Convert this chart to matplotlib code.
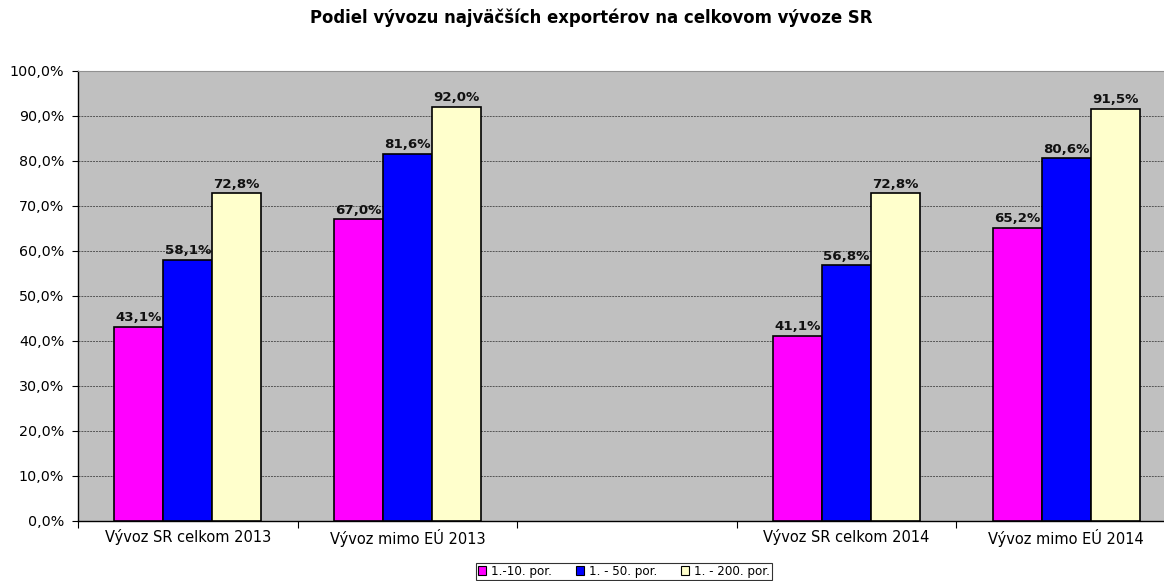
import numpy as np
import matplotlib
matplotlib.use("Agg")
import matplotlib.pyplot as plt
from matplotlib.patches import Patch

# data: share of the largest exporters in total Slovak exports (%)
categories = ["Vývoz SR celkom 2013", "Vývoz mimo EÚ 2013", "",
              "Vývoz SR celkom 2014", "Vývoz mimo EÚ 2014"]
series_names = ["1.-10. por.", "1. - 50. por.", "1. - 200. por."]
top10 = [43.1, 67.0, None, 41.1, 65.2]
top50 = [58.1, 81.6, None, 56.8, 80.6]
top200 = [72.8, 92.0, None, 72.8, 91.5]
y_ticks = [0, 10, 20, 30, 40, 50, 60, 70, 80, 90, 100]

colors = ["#FF00FF", "#0000FF", "#FFFFCC"]
TITLE = "Podiel vývozu najväčších exportérov na celkovom vývoze SR"


def pct(v):
    return f"{v:.1f}".replace(".", ",") + "%"


fig = plt.figure(figsize=(11.64, 5.81), dpi=100)
ax = fig.add_axes([0.067, 0.1033, 0.9433, 0.7745])
ax.set_facecolor("#C0C0C0")

x = np.arange(len(categories))
bar_w = 0.223
for i, (vals, col) in enumerate(zip([top10, top50, top200], colors)):
    offset = (i - 1) * bar_w
    for xi, v in zip(x, vals):
        if v is None:
            continue
        ax.bar(xi + offset, v, width=bar_w, color=col, edgecolor="black",
               linewidth=1.2, zorder=3)
        ax.annotate(pct(v), (xi + offset, v), xytext=(0, 2),
                    textcoords="offset points", ha="center", va="bottom",
                    fontsize=9.6, fontweight="bold", color="#111111", zorder=4)

ax.set_xlim(-0.5, len(categories) - 0.5)
ax.set_ylim(0, 100)
ax.set_yticks(y_ticks)
ax.set_yticklabels([pct(t) for t in y_ticks], fontsize=10.3)
ax.yaxis.grid(True, linestyle=(0, (2, 1)), color="#555555", linewidth=0.7,
              zorder=1)

# category separators as major ticks, names on minor ticks
ax.set_xticks(np.arange(len(categories) + 1) - 0.5)
ax.set_xticklabels([])
ax.set_xticks(x, minor=True)
ax.set_xticklabels(categories, minor=True, fontsize=10.5)
ax.tick_params(axis="x", which="major", length=5, direction="out")
ax.tick_params(axis="x", which="minor", length=0, pad=6)
ax.tick_params(axis="y", length=4, direction="out", pad=6)

for side in ["left", "bottom"]:
    ax.spines[side].set_color("black")
    ax.spines[side].set_linewidth(1.0)
ax.spines["top"].set_color("#909090")
ax.spines["right"].set_visible(False)

fig.text(0.508, 0.97, TITLE, ha="center", va="center", fontsize=11.9,
         fontweight="bold")

handles = [Patch(facecolor=c, edgecolor="black", linewidth=0.8)
           for c in colors]
leg = fig.legend(handles, series_names, loc="upper center",
                 bbox_to_anchor=(0.536, 1 - 563 / 581), ncol=3, fontsize=8.6,
                 frameon=True, fancybox=False, edgecolor="black",
                 handlelength=0.7, handleheight=0.7, handletextpad=0.4,
                 columnspacing=2.0, borderpad=0.15, borderaxespad=0)
leg.get_frame().set_linewidth(0.8)

fig.savefig("out.png", dpi=100)
